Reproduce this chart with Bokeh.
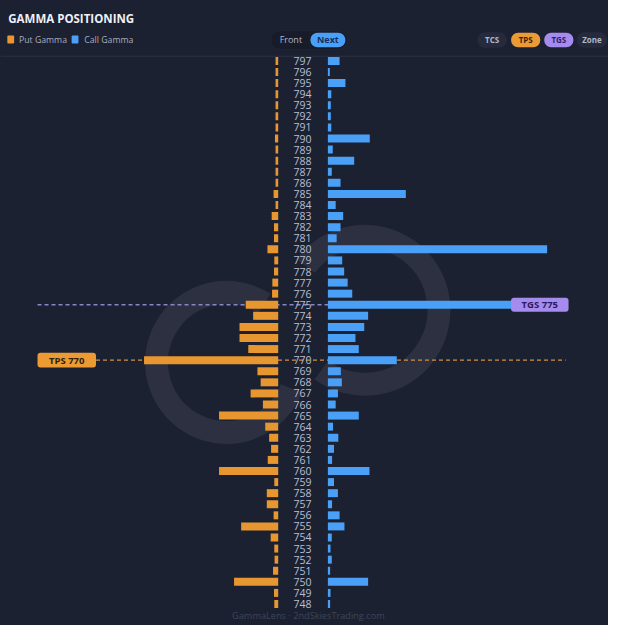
from bokeh.plotting import figure
from bokeh.models import Range1d, BoxAnnotation, Label, ColumnDataSource
from bokeh.layouts import column
from bokeh.core.properties import value
from bokeh.embed import file_html
from bokeh.resources import INLINE

# ---------------- data ----------------
strikes = list(range(797, 747, -1))
put_gamma = [2.7, 2.7, 2.7, 2.7, 2.7, 2.7, 2.7, 3.3, 2.7, 2.7, 2.7, 2.7, 4.7, 2.7, 6.7, 4.3, 4.3, 11.0,
             4.0, 4.3, 6.0, 6.3, 33.3, 25.7, 39.7, 39.7, 30.7, 137.7, 21.3, 18.0, 28.3, 15.7, 60.7, 13.3, 9.3,
             7.3, 10.7, 60.7, 4.0, 11.7, 11.7, 4.7, 38.0, 7.7, 4.0, 3.7, 5.3, 45.3, 4.3, 4.0]
call_gamma = [12.0, 2.0, 18.0, 3.5, 3.0, 3.0, 3.5, 43.0, 5.0, 27.0, 4.0, 13.0, 80.0, 8.0, 15.7, 13.0, 9.0, 225.0,
              14.7, 16.7, 20.3, 25.0, 200.0, 41.3, 37.3, 28.3, 31.7, 70.7, 13.3, 14.3, 10.3, 8.0, 31.7, 5.3, 10.7,
              6.3, 4.3, 42.7, 6.3, 10.3, 4.3, 12.0, 17.0, 4.0, 2.7, 4.0, 2.3, 41.3, 2.7, 2.3]
strike_labels = [str(s) for s in strikes]
tps_strike = 770
tgs_strike = 775
title = "GAMMA POSITIONING"
legend_labels = ["Put Gamma", "Call Gamma"]
toggle_labels = ["Front", "Next"]
button_labels = ["TCS", "TPS", "TGS", "Zone"]
footer = "GammaLens · 2ndSkiesTrading.com"

# ---------------- style ----------------
BG = "#1c2132"
PUT = "#e8962f"
CALL = "#4aa0f6"
PURPLE = "#a68bef"
TXT = "#b7bfd2"
FONT = "Open Sans"

W = 608
H_HEAD = 51
H_MAIN = 574
GAP_L = 25   # put bars end here (left of center)
GAP_R = 26   # call bars start here

def base(fig_h, xr, yr):
    f = figure(width=W, height=fig_h, x_range=xr, y_range=yr, toolbar_location=None,
               output_backend="svg", min_border=0, outline_line_color=None,
               background_fill_color=BG, border_fill_color=BG)
    f.axis.visible = False
    f.grid.visible = False
    return f

# ---------------- header ----------------
h = base(H_HEAD, Range1d(0, 624), Range1d(52.3, 0))
h.add_layout(Label(x=8, y=18, text=title, text_font=FONT, text_font_style="bold",
                   text_font_size="11.5px", text_color="#eef0f5", text_baseline="middle"))
# legend
h.add_layout(BoxAnnotation(left=7, right=14, top=36, bottom=44, fill_color=PUT, fill_alpha=1,
                           line_color=None, border_radius=1))
h.add_layout(Label(x=19, y=40.5, text=legend_labels[0], text_font=FONT, text_font_size="8.7px",
                   text_color="#a7aebf", text_baseline="middle"))
h.add_layout(BoxAnnotation(left=73, right=80, top=36, bottom=44, fill_color=CALL, fill_alpha=1,
                           line_color=None, border_radius=1))
h.add_layout(Label(x=86, y=40.5, text=legend_labels[1], text_font=FONT, text_font_size="8.7px",
                   text_color="#a7aebf", text_baseline="middle"))
# toggle
h.add_layout(BoxAnnotation(left=277, right=356, top=31, bottom=50, fill_color="#181c2a", fill_alpha=1,
                           line_color="#30374a", line_width=1, border_radius=9))
h.add_layout(Label(x=298, y=40.5, text=toggle_labels[0], text_font=FONT, text_font_size="9px",
                   text_color="#b0b7c8", text_align="center", text_baseline="middle"))
h.add_layout(BoxAnnotation(left=318, right=354, top=33, bottom=48, fill_color=CALL, fill_alpha=1,
                           line_color=None, border_radius=8))
h.add_layout(Label(x=336, y=40.5, text=toggle_labels[1], text_font=FONT, text_font_style="bold",
                   text_font_size="9px", text_color="#14305c", text_align="center", text_baseline="middle"))
# buttons
btns = [(490, 519, "#252b3c", "#323a4e", "#b0b8ca"),
        (524, 554, "#eb9b36", None, "#3a2406"),
        (558, 588, PURPLE, None, "#33226f"),
        (592, 622, "#252b3c", "#323a4e", "#b0b8ca")]
for (l, r, fc, lc, tc), lab in zip(btns, button_labels):
    h.add_layout(BoxAnnotation(left=l, right=r, top=33, bottom=48, fill_color=fc, fill_alpha=1,
                               line_color=lc, line_width=1, border_radius=7))
    h.add_layout(Label(x=(l + r) / 2, y=40.5, text=lab, text_font=FONT, text_font_style="bold",
                       text_font_size="8px", text_color=tc, text_align="center", text_baseline="middle"))

# ---------------- main chart ----------------
m = base(H_MAIN, Range1d(-310, 314), Range1d(746.06, 797.85))

# header separator
m.segment(x0=[-310], y0=[797.42], x1=[314], y1=[797.42], line_color="#2a3042", line_width=1)

# faint watermark logo (decoration)
m.arc(x=[-78], y=[769.8], radius=70, radius_units="screen", start_angle=1.0, end_angle=5.9,
      line_width=23, line_color="#ffffff", line_alpha=0.07)
m.arc(x=[64], y=[774.5], radius=74, radius_units="screen", start_angle=-2.2, end_angle=2.5,
      line_width=23, line_color="#ffffff", line_alpha=0.07)

# reference lines (under bars)
m.segment(x0=[-272], y0=[tgs_strike], x1=[214], y1=[tgs_strike], line_color="#8a84c8",
          line_width=1.3, line_dash="4 3")
m.segment(x0=[-212], y0=[tps_strike], x1=[270], y1=[tps_strike], line_color="#d4903a",
          line_width=1.3, line_dash="4 3")

src = ColumnDataSource(dict(
    strike=strikes,
    label=strike_labels,
    put_left=[-GAP_L - v for v in put_gamma],
    put_right=[-GAP_L] * len(strikes),
    call_left=[GAP_R] * len(strikes),
    call_right=[GAP_R + v for v in call_gamma],
))
m.hbar(y="strike", left="put_left", right="put_right", height=0.72, source=src,
       fill_color=PUT, line_color=None)
m.hbar(y="strike", left="call_left", right="call_right", height=0.72, source=src,
       fill_color=CALL, line_color=None)
m.text(x=0, y="strike", text="label", source=src, text_align="center", text_baseline="middle",
       text_font=value(FONT), text_font_size="10.5px", text_color=TXT)

# marker labels
m.add_layout(BoxAnnotation(left=214, right=273, top=tgs_strike + 0.64, bottom=tgs_strike - 0.64,
                           fill_color=PURPLE, fill_alpha=1, line_color=None, border_radius=3))
m.add_layout(Label(x=243.5, y=tgs_strike, text=f"TGS {tgs_strike}", text_font=FONT,
                   text_font_style="bold", text_font_size="9.5px", text_color="#2a1b5c",
                   text_align="center", text_baseline="middle"))
m.add_layout(BoxAnnotation(left=-272, right=-212, top=tps_strike + 0.66, bottom=tps_strike - 0.66,
                           fill_color="#eb9a34", fill_alpha=1, line_color=None, border_radius=3))
m.add_layout(Label(x=-242, y=tps_strike, text=f"TPS {tps_strike}", text_font=FONT,
                   text_font_style="bold", text_font_size="9.5px", text_color="#2e1f08",
                   text_align="center", text_baseline="middle"))

m.add_layout(Label(x=6, y=746.95, text=footer, text_font=FONT, text_font_size="9.2px",
                   text_color="#3d4559", text_align="center", text_baseline="middle"))

p = column(h, m, spacing=0, styles={"background-color": BG})
open("out.html", "w").write(file_html(p, INLINE))
